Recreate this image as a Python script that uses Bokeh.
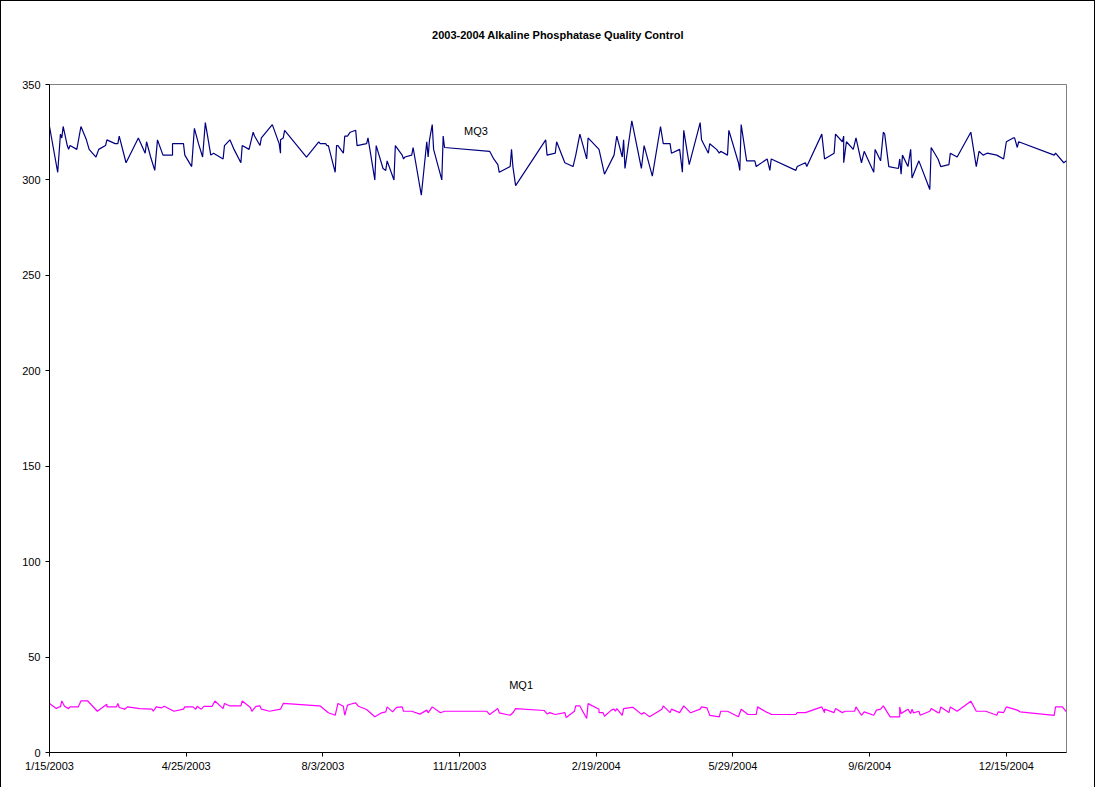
from bokeh.plotting import figure
from bokeh.models import FixedTicker, Range1d, Label, Title
from bokeh.embed import file_html
from bokeh.resources import INLINE

# ---------------- data (days since 1/15/2003, values) ----------------
x_tick_days = [0, 100, 200, 300, 400, 500, 600, 700]
x_tick_labels = ["1/15/2003", "4/25/2003", "8/3/2003", "11/11/2003",
                 "2/19/2004", "5/29/2004", "9/6/2004", "12/15/2004"]
y_ticks = [0, 50, 100, 150, 200, 250, 300, 350]

mq3_day = [0, 6, 8, 9, 10, 13, 14, 15, 20, 23, 27, 29, 34, 36, 41, 42, 48, 50, 51, 56,
           65, 70, 71, 74, 77, 79, 83, 90, 90, 98, 99, 104, 106, 109, 112, 114, 118, 120,
           127, 128, 132, 135, 140, 141, 146, 149, 150, 154, 155, 163, 168, 169, 169, 171,
           172, 188, 197, 198, 202, 203, 204, 209, 210, 211, 215, 216, 218, 220, 224, 225,
           232, 233, 238, 239, 244, 246, 247, 252, 253, 258, 259, 260, 265, 266, 272, 276,
           277, 278, 280, 281, 287, 288, 289, 322, 325, 328, 329, 337, 338, 339, 341, 363,
           364, 370, 371, 377, 383, 385, 388, 393, 394, 402, 406, 413, 415, 419, 420, 421,
           426, 433, 435, 441, 447, 449, 454, 455, 461, 463, 464, 468, 476, 477, 482, 483,
           488, 490, 491, 496, 497, 504, 505, 506, 510, 516, 517, 525, 527, 528, 546, 547,
           553, 554, 565, 567, 574, 575, 580, 581, 581, 583, 588, 590, 594, 596, 603, 604,
           608, 610, 611, 614, 621, 622, 623, 624, 628, 630, 631, 636, 644, 645, 650, 652,
           658, 659, 664, 674, 678, 680, 683, 686, 693, 698, 700, 705, 706, 708, 709, 735,
           736, 742, 744]
mq3_val = [328, 304, 324, 322, 328, 318, 316, 318, 316, 328, 321, 316, 312, 316, 318, 321,
           319, 319, 323, 309, 322, 314, 320, 312, 305, 321, 313, 313, 319, 319, 313, 307,
           327, 319, 312, 330, 313, 314, 311, 318, 321, 316, 309, 318, 316, 325, 323, 318,
           322, 329, 319, 314, 321, 322, 326, 312, 320, 319, 319, 318, 318, 304, 318, 318,
           314, 323, 323, 325, 326, 318, 319, 322, 300, 318, 306, 305, 310, 300, 318, 313,
           311, 312, 313, 317, 292, 320, 312, 321, 329, 316, 300, 323, 317, 315, 311, 308,
           304, 307, 316, 307, 297, 321, 313, 314, 320, 309, 307, 313, 324, 311, 322, 316,
           303, 313, 323, 312, 321, 306, 331, 306, 318, 302, 328, 319, 319, 314, 316, 304,
           326, 308, 330, 321, 314, 319, 316, 314, 315, 313, 326, 309, 305, 329, 310, 310,
           307, 311, 305, 311, 305, 307, 309, 307, 324, 311, 314, 324, 320, 323, 309, 320,
           316, 322, 309, 315, 304, 316, 310, 325, 324, 307, 306, 311, 303, 313, 307, 316,
           301, 310, 295, 317, 311, 307, 308, 314, 312, 325, 307, 315, 313, 314, 313, 311,
           320, 322, 322, 317, 320, 313, 314, 309, 310]

mq1_day = [0, 5, 7, 8, 9, 11, 14, 15, 21, 23, 28, 35, 42, 42, 49, 50, 51, 55, 57, 66,
           75, 76, 78, 82, 84, 91, 98, 99, 105, 107, 108, 111, 113, 119, 121, 127, 128, 132,
           140, 141, 147, 148, 151, 154, 155, 161, 169, 171, 197, 198, 204, 209, 211, 215,
           216, 218, 220, 224, 226, 232, 238, 243, 246, 247, 251, 253, 254, 258, 259, 265,
           271, 276, 277, 280, 286, 289, 320, 322, 328, 329, 337, 339, 341, 362, 364, 366,
           370, 377, 378, 384, 385, 388, 393, 394, 402, 402, 405, 406, 411, 413, 414, 415,
           419, 420, 426, 427, 433, 435, 439, 448, 449, 454, 455, 461, 464, 469, 476, 477,
           481, 483, 490, 491, 496, 504, 506, 511, 517, 518, 524, 527, 528, 546, 547, 553,
           565, 567, 567, 574, 575, 580, 582, 589, 590, 594, 596, 603, 605, 608, 610, 615,
           622, 622, 623, 627, 628, 630, 631, 632, 636, 637, 644, 645, 650, 651, 652, 658,
           659, 664, 674, 678, 685, 693, 694, 698, 700, 708, 710, 735, 736, 741, 744]
mq1_val = [25.7, 23.0, 23.9, 23.9, 27.0, 24.2, 23.0, 23.9, 23.9, 27.0, 27.0, 21.6, 25.3,
           23.9, 23.9, 25.7, 23.6, 22.7, 23.9, 23.0, 22.7, 21.6, 23.9, 23.4, 24.2, 21.6,
           22.7, 23.9, 23.9, 22.7, 24.2, 22.7, 24.2, 24.2, 27.0, 23.0, 25.7, 24.4, 24.4,
           27.0, 23.6, 21.6, 24.2, 24.4, 22.7, 21.6, 22.7, 25.7, 24.4, 24.4, 20.8, 19.5,
           25.7, 24.2, 19.5, 24.8, 25.3, 26.0, 24.2, 22.5, 18.7, 20.8, 21.3, 23.9, 21.3,
           23.0, 23.6, 23.9, 21.6, 21.6, 20.1, 22.2, 20.8, 23.9, 20.8, 21.6, 21.6, 19.9,
           23.0, 20.8, 19.5, 20.8, 23.0, 22.0, 20.2, 20.9, 19.9, 20.9, 18.3, 21.6, 24.4,
           24.4, 17.8, 25.6, 22.7, 20.9, 20.9, 19.0, 22.2, 22.7, 21.6, 23.0, 19.5, 23.0,
           23.6, 23.6, 20.1, 20.9, 18.7, 22.7, 24.4, 20.9, 22.7, 20.9, 24.4, 20.8, 22.7,
           23.9, 23.4, 19.5, 18.7, 21.6, 21.6, 18.7, 22.7, 19.9, 19.9, 23.9, 21.3, 20.4,
           19.9, 19.9, 20.9, 20.9, 23.9, 20.8, 22.7, 20.9, 23.0, 20.9, 21.6, 21.6, 23.9,
           19.5, 21.3, 19.5, 22.2, 22.7, 24.4, 18.7, 18.7, 23.9, 20.4, 22.2, 22.7, 20.4,
           22.7, 20.8, 21.6, 19.5, 21.6, 23.0, 20.9, 20.8, 23.9, 20.9, 23.9, 21.6, 26.9,
           21.6, 21.6, 19.5, 21.3, 20.9, 23.9, 22.2, 21.3, 19.5, 23.9, 23.9, 21.3]

series_names = ["MQ3", "MQ1"]
title_text = "2003-2004 Alkaline Phosphatase Quality Control"

# ---------------- figure ----------------
FONT = "Liberation Sans"
p = figure(frame_width=1017, frame_height=668,
           min_border_left=48, min_border_right=28, min_border_top=83, min_border_bottom=35,
           x_range=Range1d(0, 744), y_range=Range1d(0, 350),
           output_backend="svg", toolbar_location=None,
           background_fill_color="white", border_fill_color="white")
p.styles = {"border-left": "1px solid black", "border-top": "1px solid black",
            "border-right": "1px solid black"}

# blank spacer next to the plot area, then the real title above it
p.add_layout(Title(text=" ", text_font=FONT, text_font_size="11px", standoff=30), "above")
p.add_layout(Title(text=title_text, align="center", text_font=FONT,
                   text_font_size="11px", text_font_style="bold", text_color="black",
                   standoff=0), "above")

p.xgrid.visible = False
p.ygrid.visible = False
p.outline_line_color = "#808080"
p.outline_line_width = 1

for ax in (p.xaxis[0], p.yaxis[0]):
    ax.axis_line_color = "black"
    ax.axis_line_width = 1
    ax.major_tick_in = 0
    ax.major_tick_out = 4
    ax.minor_tick_in = 0
    ax.minor_tick_out = 0
    ax.major_tick_line_color = "black"
    ax.major_label_text_font = FONT
    ax.major_label_text_font_size = "11px"
    ax.major_label_text_color = "black"

p.xaxis[0].ticker = FixedTicker(ticks=x_tick_days)
p.xaxis[0].major_label_overrides = {d: l for d, l in zip(x_tick_days, x_tick_labels)}
p.xaxis[0].major_label_standoff = 3
p.yaxis[0].ticker = FixedTicker(ticks=y_ticks)
p.yaxis[0].major_label_standoff = 5

p.line(mq3_day, mq3_val, line_color="#000080", line_width=1.2)
p.line(mq1_day, mq1_val, line_color="#FF00FF", line_width=1.2)

# series labels (placed as in the original chart)
p.add_layout(Label(x=312, y=325.8, text=series_names[0], text_font=FONT,
                   text_font_size="11px", text_align="center", text_baseline="middle",
                   text_color="black"))
p.add_layout(Label(x=345, y=35.6, text=series_names[1], text_font=FONT,
                   text_font_size="11px", text_align="center", text_baseline="middle",
                   text_color="black"))

open("out.html", "w").write(file_html(p, INLINE))
